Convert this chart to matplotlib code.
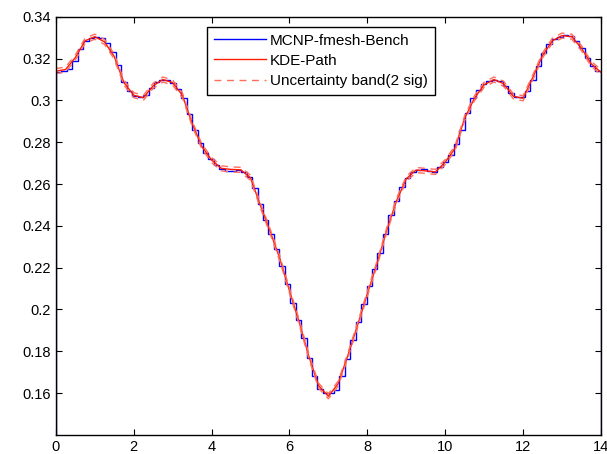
import numpy as np
import matplotlib
matplotlib.use("Agg")
import matplotlib.pyplot as plt

# MCNP fmesh benchmark, 100 bins of 0.14 over 0..14
bin_width = 0.14
bench = [0.3138, 0.3143, 0.3150, 0.3190, 0.3245, 0.3282, 0.3300, 0.3305, 0.3298, 0.3275,
         0.3232, 0.3170, 0.3090, 0.3045, 0.3022, 0.3015, 0.3025, 0.3060, 0.3088, 0.3100,
         0.3098, 0.3082, 0.3055, 0.3010, 0.2935, 0.2860, 0.2795, 0.2750, 0.2718, 0.2690,
         0.2672, 0.2663, 0.2662, 0.2665, 0.2658, 0.2635, 0.2580, 0.2505, 0.2430, 0.2360,
         0.2290, 0.2210, 0.2120, 0.2030, 0.1950, 0.1865, 0.1770, 0.1680, 0.1620, 0.1600,
         0.1600, 0.1615, 0.1680, 0.1765, 0.1855, 0.1940, 0.2025, 0.2110, 0.2195, 0.2270,
         0.2360, 0.2450, 0.2520, 0.2585, 0.2630, 0.2658, 0.2668, 0.2670, 0.2662, 0.2660,
         0.2680, 0.2705, 0.2740, 0.2790, 0.2860, 0.2940, 0.3010, 0.3050, 0.3078, 0.3095,
         0.3100, 0.3092, 0.3070, 0.3035, 0.3015, 0.3015, 0.3045, 0.3100, 0.3165, 0.3225,
         0.3270, 0.3292, 0.3305, 0.3312, 0.3308, 0.3285, 0.3250, 0.3205, 0.3165, 0.3140]

# KDE path estimate
kde_x = [0.0, 0.25, 0.5, 0.75, 1.0, 1.25, 1.5, 1.75, 2.0, 2.25, 2.5, 2.75, 3.0, 3.25,
         3.5, 3.75, 4.0, 4.25, 4.5, 4.75, 5.0, 5.25, 5.5, 5.75, 6.0, 6.25, 6.5, 6.75,
         7.0, 7.25, 7.5, 7.75, 8.0, 8.25, 8.5, 8.75, 9.0, 9.25, 9.5, 9.75, 10.0, 10.25,
         10.5, 10.75, 11.0, 11.25, 11.5, 11.75, 12.0, 12.25, 12.5, 12.75, 13.0, 13.25,
         13.5, 13.75, 14.0]
kde_y = [0.3140, 0.3148, 0.3205, 0.3285, 0.3305, 0.3280, 0.3210, 0.3085, 0.3025, 0.3013,
         0.3070, 0.3100, 0.3085, 0.3025, 0.2890, 0.2780, 0.2715, 0.2675, 0.2670, 0.2668,
         0.2630, 0.2500, 0.2375, 0.2245, 0.2090, 0.1940, 0.1775, 0.1635, 0.1585, 0.1645,
         0.1780, 0.1925, 0.2075, 0.2220, 0.2380, 0.2520, 0.2625, 0.2667, 0.2663, 0.2658,
         0.2705, 0.2770, 0.2915, 0.3010, 0.3075, 0.3100, 0.3080, 0.3020, 0.3010, 0.3110,
         0.3215, 0.3285, 0.3310, 0.3305, 0.3250, 0.3175, 0.3135]
sigma = 0.0006  # 1 sigma of the KDE estimate

plt.rcParams['font.family'] = ['Liberation Sans', 'DejaVu Sans']

fig = plt.figure(figsize=(6.07, 4.54), dpi=100)
ax = fig.add_axes([0.092, 0.042, 0.898, 0.921])

edges = np.arange(len(bench) + 1) * bin_width
ax.stairs(bench, edges, color='#0000ff', linewidth=1.0, label='MCNP-fmesh-Bench')

kx = np.array(kde_x)
ky = np.array(kde_y)
ax.plot(kx, ky, color='#ff1a00', linewidth=1.0, label='KDE-Path')
ax.plot(kx, ky + 2 * sigma, color='#ff6f5c', linewidth=1.0, dashes=(5, 4),
        label='Uncertainty band(2 sig)')
ax.plot(kx, ky - 2 * sigma, color='#ff6f5c', linewidth=1.0, dashes=(5, 4))

ax.set_xlim(0, 14)
ax.set_ylim(0.14, 0.34)
ax.set_xticks(np.arange(0, 15, 2))
ax.set_yticks(np.arange(0.16, 0.345, 0.02))
ax.set_xticklabels([f"{v:g}" for v in np.arange(0, 15, 2)])
ax.set_yticklabels([f"{v:.2f}".rstrip('0').rstrip('.') for v in np.arange(0.16, 0.345, 0.02)])
ax.tick_params(direction='in', top=True, right=True, length=4, width=0.8, labelsize=10.5)
for s in ax.spines.values():
    s.set_linewidth(1.0)

leg = ax.legend(loc='upper left', bbox_to_anchor=(0.277, 0.976), fontsize=11,
                handlelength=3.4, handletextpad=0.3, borderpad=0.45, labelspacing=0.4,
                fancybox=False, framealpha=1, edgecolor='black', borderaxespad=0)
leg.get_frame().set_linewidth(1.0)

fig.savefig('out.png', dpi=100)
